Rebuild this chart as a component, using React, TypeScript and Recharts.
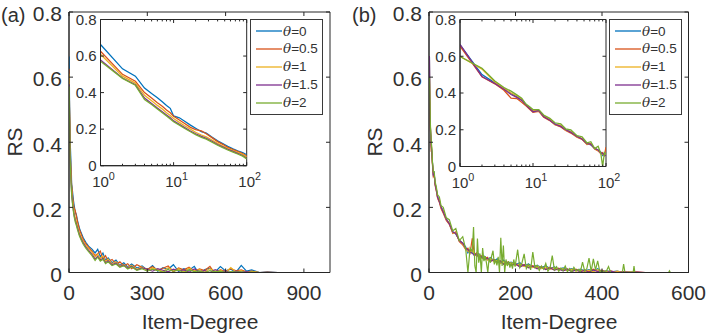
import React from 'react';
import { LineChart, Line, XAxis, YAxis, ReferenceArea } from 'recharts';

const W = 712;
const H = 336;

const AXIS = '#262626';
const TEXT = '#303030';
const FONT = '"Liberation Sans", Arial, Helvetica, sans-serif';

// θ values and MATLAB-style series colours
const thetaLabels = ['0', '0.5', '1', '1.5', '2'];
const seriesColors = ['#0072BD', '#D95319', '#EDB120', '#7E2F8E', '#77AC30'];

// ---------- dataset (a) ----------
const degreeA = [
  1, 2, 3, 4, 5, 6, 7, 8, 9, 10, 12, 14, 17, 20, 24, 28, 33, 40, 47, 55, 65, 75, 88, 100,
  110, 120, 130, 140, 150, 165, 180, 195, 210, 225, 240, 260, 280, 300, 320, 340, 360, 380,
  400, 420, 440, 460, 480, 500, 520, 540, 560, 580, 600, 620, 640, 660, 680, 700, 730, 760, 800,
];
const rsA0 = [
  0.663, 0.53, 0.49, 0.425, 0.395, 0.372, 0.35, 0.33, 0.314, 0.272, 0.262, 0.245, 0.222, 0.205, 0.186, 0.178, 0.158, 0.136, 0.121, 0.106, 0.092, 0.081, 0.072, 0.06,
  0.071, 0.048, 0.06, 0.037, 0.045, 0.03, 0.038, 0.022, 0.03, 0.017, 0.026, 0.014, 0.02, 0.008, 0.021, 0.004, 0.015, 0.01, 0.024, 0.003, 0.012, 0.007, 0.019, -0.006, 0.009, 0.013, 0.002, 0.018, 0.005, 0.01, 0.001, 0.022, 0.004, 0.008, 0.0, 0.002, 0.0,
];
const rsA05 = [
  0.626, 0.5, 0.462, 0.4, 0.37, 0.345, 0.325, 0.305, 0.29, 0.27, 0.25, 0.232, 0.21, 0.197, 0.19, 0.175, 0.155, 0.132, 0.117, 0.1, 0.088, 0.078, 0.066, 0.052,
  0.058, 0.066, 0.041, 0.052, 0.034, 0.04, 0.026, 0.033, 0.02, 0.027, 0.012, 0.024, 0.016, 0.01, 0.018, 0.006, 0.013, 0.02, 0.002, 0.014, 0.008, 0.016, 0.004, 0.011, 0.006, 0.019, -0.004, 0.009, 0.003, 0.012, 0.005, 0.008, 0.002, 0.004, 0.0, 0.001, 0.0,
];
const rsA1 = [
  0.61, 0.49, 0.452, 0.385, 0.355, 0.33, 0.31, 0.29, 0.275, 0.258, 0.237, 0.22, 0.2, 0.183, 0.168, 0.158, 0.142, 0.122, 0.108, 0.095, 0.083, 0.073, 0.062, 0.048,
  0.056, 0.043, 0.05, 0.034, 0.041, 0.027, 0.033, 0.02, 0.025, 0.015, 0.022, 0.01, 0.017, 0.006, 0.014, 0.009, 0.003, 0.015, 0.007, 0.011, 0.002, 0.013, 0.005, 0.009, 0.001, 0.012, 0.004, 0.007, 0.0, 0.015, 0.002, 0.006, 0.0, 0.003, 0.0, 0.0, 0.0,
];
const rsA15 = [
  0.578, 0.48, 0.443, 0.37, 0.34, 0.315, 0.295, 0.278, 0.262, 0.245, 0.226, 0.21, 0.19, 0.175, 0.16, 0.15, 0.135, 0.116, 0.103, 0.09, 0.078, 0.068, 0.056, 0.041,
  0.05, 0.038, 0.044, 0.03, 0.036, 0.024, 0.029, 0.018, 0.023, 0.013, 0.019, 0.008, 0.014, 0.01, 0.004, 0.012, 0.007, 0.002, 0.01, 0.005, 0.008, 0.001, 0.011, 0.003, 0.006, 0.0, 0.009, 0.002, 0.005, 0.0, 0.004, 0.001, 0.003, 0.0, 0.0, 0.0, 0.0,
];
const rsA2 = [
  0.571, 0.478, 0.44, 0.362, 0.335, 0.31, 0.29, 0.272, 0.256, 0.24, 0.222, 0.205, 0.186, 0.17, 0.155, 0.145, 0.13, 0.112, 0.099, 0.086, 0.074, 0.064, 0.052, 0.037,
  0.047, 0.035, 0.041, 0.027, 0.033, 0.021, 0.026, 0.016, 0.021, 0.011, 0.017, 0.007, 0.012, 0.004, 0.01, 0.006, 0.001, 0.009, 0.004, 0.007, 0.0, 0.008, 0.003, 0.005, 0.0, 0.006, 0.002, 0.004, 0.0, 0.003, 0.001, 0.002, 0.0, 0.001, 0.0, 0.0, 0.0,
];

// ---------- dataset (b) ----------
const degreeB = [
  1, 2, 3, 4, 5, 6, 7, 8, 9, 10, 12, 14, 17, 20, 24, 28, 33, 40, 47, 55, 62, 70, 78, 85, 90, 95, 100,
  105, 110, 115, 120, 128, 135, 142, 150, 158, 165, 172, 180, 190, 200, 210, 220, 230, 240, 250, 260,
  270, 280, 290, 300, 310, 320, 330, 340, 350, 360, 370, 380, 390, 400, 410, 420, 435, 450, 465, 480, 500, 530, 560,
];
const rsB0 = [
  0.662, 0.5, 0.455, 0.425, 0.398, 0.38, 0.365, 0.338, 0.318, 0.3, 0.305, 0.275, 0.255, 0.232, 0.22, 0.2, 0.19, 0.165, 0.15, 0.125, 0.118, 0.1, 0.09, 0.078, 0.06, 0.07, 0.058,
  0.06, 0.052, 0.058, 0.045, 0.05, 0.04, 0.046, 0.036, 0.042, 0.03, 0.038, 0.028, 0.032, 0.024, 0.03, 0.02, 0.026, 0.018, 0.022, 0.015, 0.02, 0.012, 0.017, 0.01, 0.014, 0.008, 0.012, 0.006, 0.01, 0.005, 0.009, 0.004, 0.012, 0.003, 0.006, 0.002, 0.004, 0.0, 0.003, 0.0, 0.0, 0.0, 0.0,
];
const rsB05 = [
  0.655, 0.488, 0.45, 0.415, 0.372, 0.37, 0.35, 0.33, 0.312, 0.295, 0.3, 0.268, 0.25, 0.228, 0.215, 0.196, 0.182, 0.16, 0.148, 0.12, 0.125, 0.095, 0.085, 0.07, 0.075, 0.06, 0.105,
  0.055, 0.06, 0.048, 0.052, 0.042, 0.047, 0.035, 0.04, 0.032, 0.036, 0.026, 0.033, 0.022, 0.028, 0.018, 0.025, 0.016, 0.021, 0.013, 0.018, 0.01, 0.016, 0.008, 0.013, 0.006, 0.011, 0.004, 0.01, 0.003, 0.008, 0.002, 0.01, 0.004, 0.007, 0.001, 0.005, 0.0, 0.003, 0.0, 0.002, 0.0, 0.0, 0.0,
];
const rsB1 = [
  0.6, 0.53, 0.46, 0.425, 0.4, 0.385, 0.368, 0.336, 0.32, 0.305, 0.302, 0.276, 0.258, 0.228, 0.225, 0.198, 0.19, 0.162, 0.152, 0.122, 0.12, 0.1, 0.088, 0.072, 0.065, 0.06, 0.07,
  0.058, 0.05, 0.055, 0.043, 0.048, 0.038, 0.044, 0.033, 0.038, 0.028, 0.034, 0.025, 0.03, 0.021, 0.026, 0.018, 0.023, 0.015, 0.02, 0.012, 0.017, 0.01, 0.015, 0.007, 0.012, 0.005, 0.01, 0.004, 0.008, 0.003, 0.007, 0.002, 0.009, 0.001, 0.005, 0.0, 0.004, 0.0, 0.002, 0.0, 0.0, 0.0, 0.0,
];
const rsB15 = [
  0.665, 0.49, 0.452, 0.42, 0.392, 0.376, 0.36, 0.336, 0.316, 0.298, 0.304, 0.272, 0.252, 0.23, 0.218, 0.2, 0.186, 0.163, 0.15, 0.124, 0.12, 0.098, 0.09, 0.074, 0.07, 0.062, 0.06,
  0.052, 0.057, 0.046, 0.05, 0.04, 0.044, 0.034, 0.039, 0.03, 0.035, 0.025, 0.031, 0.021, 0.027, 0.017, 0.023, 0.014, 0.019, 0.011, 0.016, 0.009, 0.014, 0.007, 0.011, 0.005, 0.01, 0.003, 0.008, 0.002, 0.007, 0.001, 0.008, 0.003, 0.005, 0.0, 0.004, 0.0, 0.002, 0.0, 0.001, 0.0, 0.0, 0.0,
];
// θ=2 in (b) is sampled more finely: it carries the spiky tail
const degreeB2 = [
  1, 2, 3, 4, 5, 6, 7, 8, 9, 10, 12, 14, 17, 20, 24, 28, 33, 40, 47, 55, 62, 70, 78, 85, 90, 95, 100,
  103, 106, 109, 112, 115, 118, 121, 124, 127, 130, 133, 136, 139, 142, 145, 148, 151, 154, 157, 160,
  163, 166, 169, 172, 175, 178, 181, 184, 187, 190, 193, 196, 199,
  205, 210, 215, 220, 225, 230, 235, 240, 245, 250, 255, 260, 265, 270, 275, 280, 285, 290, 295, 300,
  305, 310, 315, 320, 325, 330, 335, 340, 345, 350, 355, 360, 365, 370, 375, 380, 385, 390, 395, 400,
  405, 410, 415, 420, 435, 447, 450, 453, 472, 474, 476, 500, 530, 554, 556, 558,
];
const rsB2 = [
  0.598, 0.535, 0.465, 0.43, 0.41, 0.39, 0.372, 0.34, 0.325, 0.31, 0.31, 0.28, 0.262, 0.238, 0.232, 0.205, 0.2, 0.168, 0.162, 0.128, 0.135, 0.098, 0.11, 0.07, 0.0, 0.075, 0.065,
  0.14, 0.02, 0.0, 0.104, 0.03, 0.058, 0.0, 0.075, 0.035, 0.05, 0.028, 0.0, 0.045, 0.03, 0.052, 0.067, 0.025, 0.04, 0.022, 0.048,
  0.0, 0.107, 0.02, 0.083, 0.0, 0.04, 0.02, 0.035, 0.015, 0.03, 0.012, 0.04, 0.018,
  0.07, 0.015, 0.03, 0.057, 0.012, 0.025, 0.008, 0.063, 0.015, 0.022, 0.006, 0.02, 0.01, 0.028, 0.004, 0.015, 0.052, 0.008, 0.018, 0.004,
  0.014, 0.006, 0.02, 0.003, 0.012, 0.0, 0.016, 0.005, 0.01, 0.002, 0.032, 0.004, 0.012, 0.044, 0.003, 0.042, 0.008, 0.036, 0.002, 0.006,
  0.0, 0.004, 0.018, 0.0, 0.0, 0.0, 0.026, 0.0, 0.0, 0.02, 0.0, 0.0, 0.0, 0.0, 0.005, 0.0,
];

const yTicks = [0, 0.2, 0.4, 0.6, 0.8];
const mainTicksA = [0, 300, 600, 900];
const mainTicksB = [0, 200, 400, 600];
const logTicks = [1, 2, 3, 4, 5, 6, 7, 8, 9, 10, 20, 30, 40, 50, 60, 70, 80, 90, 100];

type Pt = { deg: number; v: number };

function toPoints(deg: number[], vals: number[]): Pt[] {
  return deg.map((d, i) => ({ deg: d, v: vals[i] }));
}

const seriesA: Pt[][] = [rsA0, rsA05, rsA1, rsA15, rsA2].map((s) => toPoints(degreeA, s));
const seriesB: Pt[][] = [
  toPoints(degreeB, rsB0),
  toPoints(degreeB, rsB05),
  toPoints(degreeB, rsB1),
  toPoints(degreeB, rsB15),
  toPoints(degreeB2, rsB2),
];
const upTo100 = (s: Pt[][]) => s.map((pts) => pts.filter((p) => p.deg <= 100));

type Rect = { L: number; R: number; T: number; B: number };

const MAIN_A: Rect = { L: 69, R: 330, T: 12, B: 272.5 };
const MAIN_B: Rect = { L: 429, R: 688.5, T: 12, B: 272.5 };
const INSET_A: Rect = { L: 100.5, R: 246.7, T: 19.5, B: 165.7 };
const INSET_B: Rect = { L: 460, R: 606, T: 19.5, B: 166.5 };

type PlotProps = {
  rect: Rect;
  series: Pt[][];
  xDomain: [number, number];
  xTicks: number[];
  log?: boolean;
  font: number;
  tickLen: number;
  yLabelGap: number;
  yLabelShift: number;
  xLabelDy: number;
  lineWidth: number;
};

function Plot({ rect, series, xDomain, xTicks, log, font, tickLen, yLabelGap, yLabelShift, xLabelDy, lineWidth }: PlotProps) {
  const yW = 40;
  const xH = 30;
  const margin = {
    top: rect.T,
    right: W - rect.R,
    bottom: H - rect.B - xH,
    left: rect.L - yW,
  };

  const xTick = (p: any) => {
    const x = p.x;
    const v = p.payload.value as number;
    const major = !log || v === 1 || v === 10 || v === 100;
    const len = major ? tickLen : tickLen * 0.55;
    return (
      <g>
        <line x1={x} x2={x} y1={rect.B} y2={rect.B - len} stroke={AXIS} strokeWidth={1} />
        <line x1={x} x2={x} y1={rect.T} y2={rect.T + len} stroke={AXIS} strokeWidth={1} />
        {major &&
          (log ? (
            <text x={x + 3} y={rect.B + xLabelDy} textAnchor="middle" fontSize={font} fill={TEXT} fontFamily={FONT}>
              10
              <tspan dy={-font * 0.42} fontSize={font * 0.72}>
                {Math.round(Math.log10(v))}
              </tspan>
            </text>
          ) : (
            <text x={x} y={rect.B + xLabelDy} textAnchor="middle" fontSize={font} fill={TEXT} fontFamily={FONT}>
              {v}
            </text>
          ))}
      </g>
    );
  };

  const yTick = (p: any) => {
    const y = p.y;
    const v = p.payload.value as number;
    return (
      <g>
        <line x1={rect.L} x2={rect.L + tickLen} y1={y} y2={y} stroke={AXIS} strokeWidth={1} />
        <line x1={rect.R} x2={rect.R - tickLen} y1={y} y2={y} stroke={AXIS} strokeWidth={1} />
        <text x={rect.L - yLabelGap} y={y + yLabelShift} dy="0.35em" textAnchor="end" fontSize={font} fill={TEXT} fontFamily={FONT}>
          {v === 0 ? '0' : v.toFixed(1)}
        </text>
      </g>
    );
  };

  return (
    <div style={{ position: 'absolute', left: 0, top: 0 }}>
      <LineChart width={W} height={H} margin={margin}>
        <XAxis
          dataKey="deg"
          type="number"
          scale={log ? 'log' : 'linear'}
          domain={xDomain}
          ticks={xTicks}
          interval={0}
          height={xH}
          tick={xTick}
          tickLine={false}
          axisLine={{ stroke: AXIS }}
          allowDataOverflow
        />
        <YAxis
          type="number"
          domain={[0, 0.8]}
          ticks={yTicks}
          interval={0}
          width={yW}
          tick={yTick}
          tickLine={false}
          axisLine={{ stroke: AXIS }}
          allowDataOverflow
        />
        <ReferenceArea
          x1={xDomain[0]}
          x2={xDomain[1]}
          y1={0}
          y2={0.8}
          fill="none"
          fillOpacity={0}
          stroke={AXIS}
          strokeWidth={1}
          ifOverflow="visible"
        />
        {series.map((pts, k) => (
          <Line
            key={k}
            data={pts}
            dataKey="v"
            name={'θ=' + thetaLabels[k]}
            type="linear"
            stroke={seriesColors[k]}
            strokeWidth={lineWidth}
            dot={false}
            isAnimationActive={false}
          />
        ))}
      </LineChart>
    </div>
  );
}

function LegendBox({ left, top }: { left: number; top: number }) {
  return (
    <div
      style={{
        position: 'absolute',
        left,
        top,
        width: 73,
        height: 96,
        border: '1px solid #3a3a3a',
        background: '#fff',
        boxSizing: 'border-box',
      }}
    >
      {thetaLabels.map((t, i) => (
        <div
          key={t}
          style={{
            position: 'absolute',
            left: 5,
            top: 3 + i * 17.9,
            height: 16,
            display: 'flex',
            alignItems: 'center',
          }}
        >
          <svg width={26} height={16}>
            <line x1={0} x2={26} y1={8} y2={8} stroke={seriesColors[i]} strokeWidth={1.3} />
          </svg>
          <span
            style={{
              fontFamily: FONT,
              fontSize: 13.5,
              color: '#333',
              marginLeft: 1,
              whiteSpace: 'nowrap',
              lineHeight: '16px',
            }}
          >
            <i style={{ fontFamily: '"DejaVu Serif", "Liberation Serif", serif' }}>θ</i>={t}
          </span>
        </div>
      ))}
    </div>
  );
}

export default function App() {
  return (
    <div
      style={{
        position: 'absolute',
        left: 0,
        top: 0,
        width: W,
        height: H,
        background: '#fff',
        overflow: 'hidden',
      }}
    >
      <Plot rect={MAIN_A} series={seriesA} xDomain={[0, 1000]} xTicks={mainTicksA} font={21} tickLen={4} yLabelGap={7} yLabelShift={2} xLabelDy={27} lineWidth={1.2} />
      <Plot rect={INSET_A} series={upTo100(seriesA)} xDomain={[1, 100]} xTicks={logTicks} log font={15} tickLen={3.5} yLabelGap={4} yLabelShift={0} xLabelDy={21} lineWidth={1.3} />
      <LegendBox left={250} top={19} />

      <Plot rect={MAIN_B} series={seriesB} xDomain={[0, 600]} xTicks={mainTicksB} font={21} tickLen={4} yLabelGap={7} yLabelShift={2} xLabelDy={27} lineWidth={1.2} />
      <Plot rect={INSET_B} series={upTo100(seriesB)} xDomain={[1, 100]} xTicks={logTicks} log font={15} tickLen={3.5} yLabelGap={4} yLabelShift={0} xLabelDy={21} lineWidth={1.3} />
      <LegendBox left={609} top={19} />

      <svg width={W} height={H} style={{ position: 'absolute', left: 0, top: 0, pointerEvents: 'none' }}>
        <g fontFamily={FONT} fill={TEXT}>
          <text x={1} y={22} fontSize={20}>(a)</text>
          <text x={352} y={22} fontSize={20}>(b)</text>
          <text x={14} y={142} fontSize={21} textAnchor="middle" dominantBaseline="central" transform="rotate(-90 14 142)">RS</text>
          <text x={374} y={142} fontSize={21} textAnchor="middle" dominantBaseline="central" transform="rotate(-90 374 142)">RS</text>
          <text x={200} y={329} fontSize={21} textAnchor="middle">Item-Degree</text>
          <text x={559} y={329} fontSize={21} textAnchor="middle">Item-Degree</text>
        </g>
      </svg>
    </div>
  );
}
